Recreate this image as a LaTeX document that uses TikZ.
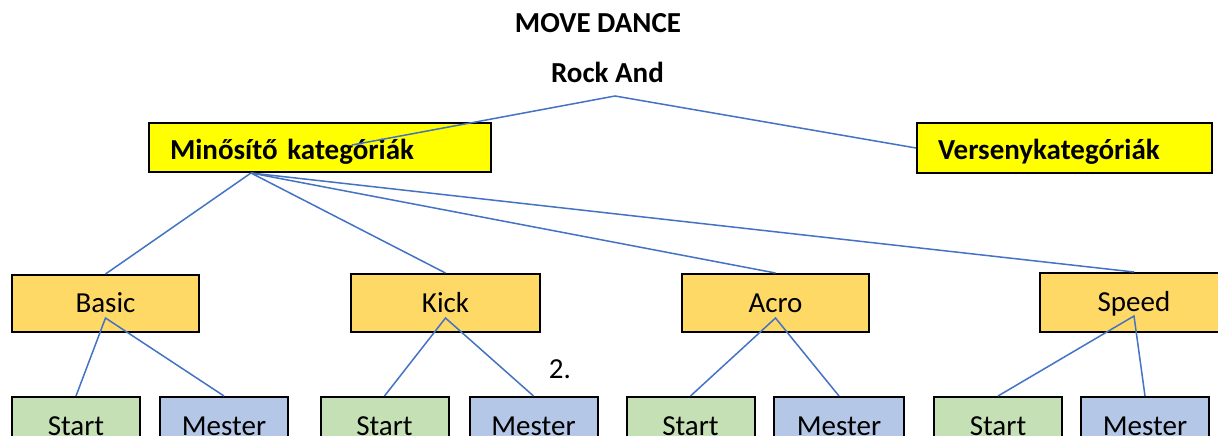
\documentclass[tikz,border=0pt]{standalone}
\usepackage{fontspec}
\setmainfont{Carlito}
\usetikzlibrary{calc}
\definecolor{connc}{HTML}{4472C4}
\definecolor{ybox}{HTML}{FFFF00}
\definecolor{obox}{HTML}{FFD966}
\definecolor{gbox}{HTML}{C5E0B4}
\definecolor{bbox}{HTML}{B4C7E7}
\tikzset{
  txt/.style={font=\fontsize{29}{35}\selectfont, inner sep=0pt},
  titletxt/.style={font=\fontsize{29}{35}\selectfont\bfseries, inner sep=0pt},
  catbox/.style={draw=black, line width=2pt, fill=ybox, font=\fontsize{29}{35}\selectfont\bfseries,
    inner xsep=21pt, inner ysep=0pt, align=left, minimum height=49pt, text height=26pt, text depth=2.6pt},
  midbox/.style={draw=black, line width=2pt, fill=obox, font=\fontsize{29}{35}\selectfont,
    minimum width=187pt, minimum height=57pt, inner sep=0pt, text height=18.7pt, text depth=0pt},
  leafbox/.style={draw=black, line width=2pt, font=\fontsize{29}{35}\selectfont,
    minimum width=128pt, minimum height=58pt, inner sep=0pt, text height=18.7pt, text depth=0pt},
  startbox/.style={leafbox, fill=gbox},
  masterbox/.style={leafbox, fill=bbox},
  connline/.style={draw=connc, line width=1.5pt}
}
\begin{document}
\begin{tikzpicture}[x=1pt, y=-1pt]
\useasboundingbox (0,0) rectangle (1218,436);
\fill[white] (0,0) rectangle (1218,436);
\clip (0,0) rectangle (1218,436);

% titles
\node[titletxt, anchor=base] (title) at (598,33) {MOVE DANCE};
\node[titletxt, anchor=base] (rock) at (607.5,82) {Rock And};

% category boxes
\node[catbox, text width=300pt] (min) at (320,147.5) {Minősítő kategóriák};
\node[catbox, text width=253pt, minimum height=50pt] (ver) at (1064.5,148) {Versenykategóriák};

% middle boxes
\node[midbox] (basic) at (105.5,303.5) {Basic};
\node[midbox, minimum width=189pt, minimum height=58pt] (kick) at (445.5,303) {Kick};
\node[midbox, minimum height=58pt] (acro) at (775.5,303) {Acro};
\node[midbox, minimum width=188pt, minimum height=59pt] (speed) at (1134,302.5) {Speed};

% leaf boxes
\node[startbox] (s1) at (76,426) {Start};
\node[masterbox] (m1) at (224,426) {Mester};
\node[startbox] (s2) at (384.5,426) {Start};
\node[masterbox] (m2) at (533.5,426) {Mester};
\node[startbox] (s3) at (690.5,426) {Start};
\node[masterbox, minimum width=130pt] (m3) at (839,426) {Mester};
\node[startbox] (s4) at (998,426) {Start};
\node[masterbox] (m4) at (1145,426) {Mester};

\node[txt, anchor=base] (two) at (560,378) {2.};

% connector points
\coordinate (apex) at (615,96);
\coordinate (minin) at (352,145);
\coordinate (minout) at (251,173);

\draw[connline] (minin) -- (apex) -- (ver.west);
\draw[connline] (minout) -- (basic.north);
\draw[connline] (minout) -- (kick.north);
\draw[connline] (minout) -- (acro.north);
\draw[connline] (minout) -- (speed.north);

\draw[connline] (s1.north) -- ($(basic.center)+(0,14.5)$) -- (m1.north);
\draw[connline] (s2.north) -- ($(kick.center)+(0,15)$) -- (m2.north);
\draw[connline] (s3.north) -- ($(acro.center)+(0,15)$) -- (m3.north);
\draw[connline] (s4.north) -- ($(speed.center)+(0,13.5)$) -- (m4.north);
\end{tikzpicture}
\end{document}
